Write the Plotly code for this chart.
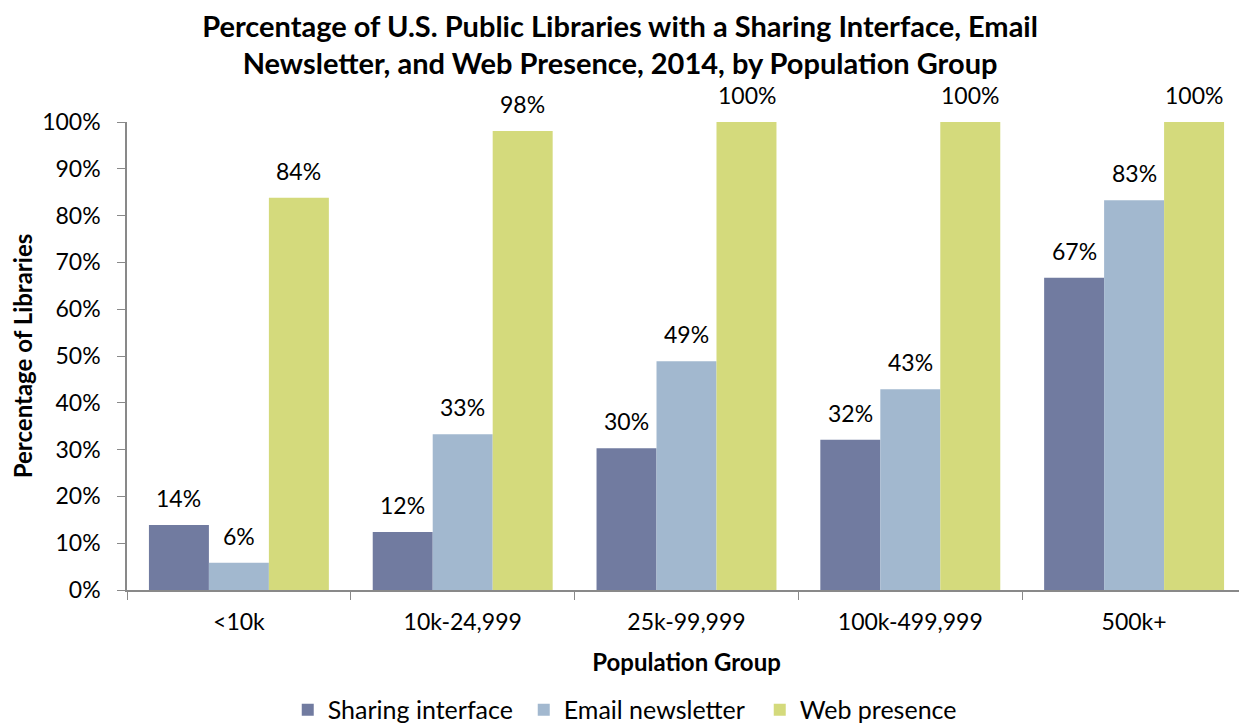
import plotly.graph_objects as go

categories = ["<10k", "10k-24,999", "25k-99,999", "100k-499,999", "500k+"]
series_names = ["Sharing interface", "Email newsletter", "Web presence"]
sharing = [13.9, 12.4, 30.3, 32.1, 66.7]
email = [5.8, 33.3, 48.9, 42.9, 83.3]
web = [83.8, 98.1, 100, 100, 100]
sharing_labels = ["14%", "12%", "30%", "32%", "67%"]
email_labels = ["6%", "33%", "49%", "43%", "83%"]
web_labels = ["84%", "98%", "100%", "100%", "100%"]
y_ticks = list(range(0, 101, 10))
y_tick_labels = [f"{t}%" for t in y_ticks]

colors = ["#717BA0", "#A2B8CF", "#D4DA7C"]
FONT = "Lato"

fig = go.Figure()
all_vals = [sharing, email, web]
all_labels = [sharing_labels, email_labels, web_labels]
for name, vals, col in zip(series_names, all_vals, colors):
    fig.add_trace(go.Bar(x=categories, y=vals, name=name, marker=dict(color=col, line=dict(width=0)),
                         hoverinfo="skip"))

shifts = [-60, 0, 60]
for vals, labels, xs in zip(all_vals, all_labels, shifts):
    for c, v, t in zip(categories, vals, labels):
        fig.add_annotation(x=c, y=v, text=t, showarrow=False, xshift=xs, yshift=27,
                           yanchor="middle", font=dict(family=FONT, size=23, color="#000"))

fig.update_layout(
    width=1239, height=716,
    paper_bgcolor="white", plot_bgcolor="white",
    margin=dict(l=119, r=1, t=114, b=134, autoexpand=False),
    barmode="group", bargap=0.196, bargroupgap=0,
    font=dict(family=FONT, color="#000"),
    title=dict(text="<b>Percentage of U.S. Public Libraries with a Sharing Interface, Email<br>Newsletter, and Web Presence, 2014, by Population Group</b>",
               x=0.494, xanchor="center", y=0.96, yanchor="middle",
               font=dict(family=FONT, size=29, color="#000")),
    legend=dict(orientation="h", xref="container", x=0.5115, xanchor="center",
                yref="container", y=0.0196, yanchor="middle",
                font=dict(family=FONT, size=25), traceorder="normal", itemwidth=30,
                entrywidth=191, entrywidthmode="pixels"),
    showlegend=True,
)
fig.update_xaxes(automargin=False, showline=True, linecolor="#898989", linewidth=1.5, ticks="outside",
                 tickson="boundaries", ticklen=8, tickcolor="#898989", tickfont=dict(family=FONT, size=23),
                 ticklabelstandoff=11,
                 title=dict(text="<b>Population Group</b>", font=dict(family=FONT, size=24), standoff=20))
fig.update_yaxes(automargin=False, range=[0, 100], tickvals=y_ticks, ticktext=y_tick_labels, showline=True,
                 linecolor="#898989", linewidth=1.5, ticks="outside", ticklen=8, tickcolor="#898989",
                 showgrid=False, zeroline=False, tickfont=dict(family=FONT, size=23), ticklabelstandoff=12,
                 title=dict(text="<b>Percentage of Libraries</b>", font=dict(family=FONT, size=24), standoff=10))

fig.write_html("out.html")
